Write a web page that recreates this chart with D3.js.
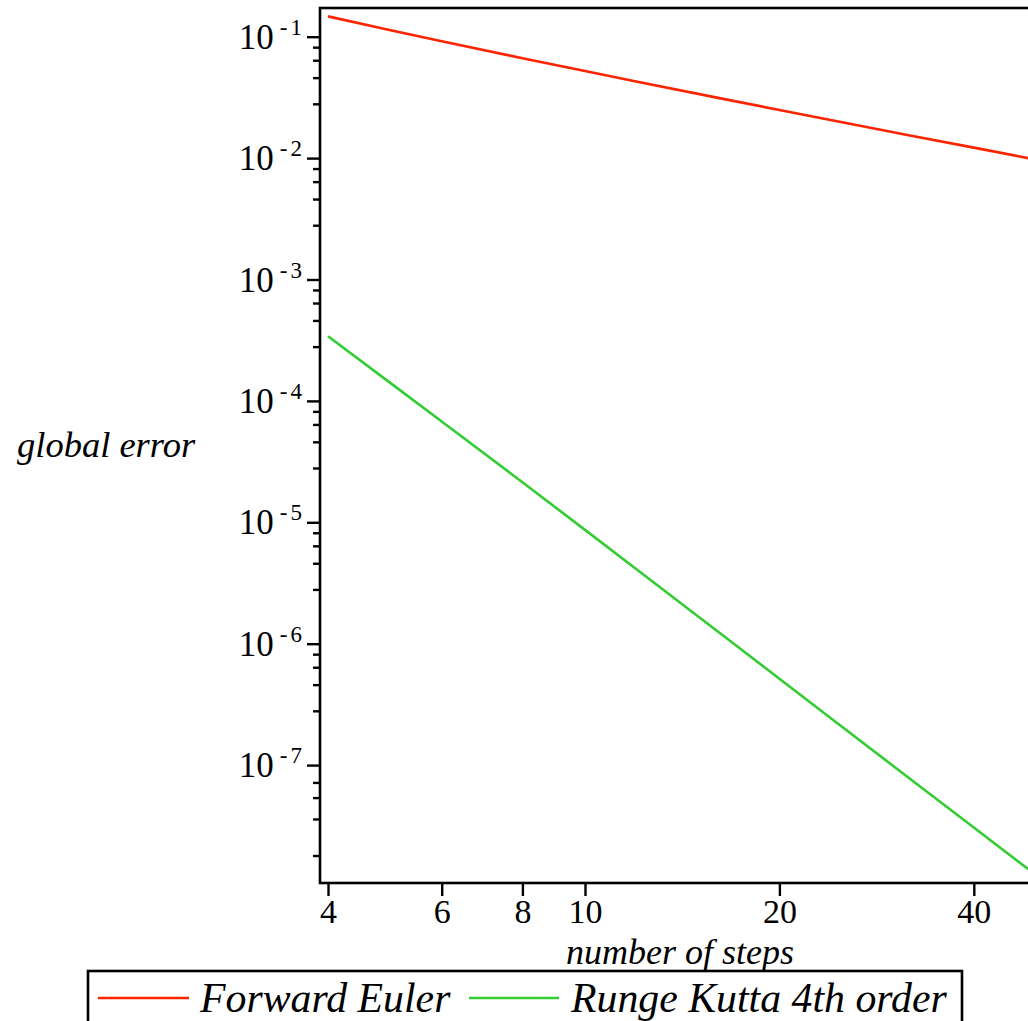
<!DOCTYPE html>
<html>
<head>
<meta charset="utf-8">
<script src="https://cdn.jsdelivr.net/npm/d3@7"></script>
<style>
  html, body { margin: 0; padding: 0; background: #fff; }
  svg { display: block; }
  text { font-family: "Liberation Serif", "Times New Roman", serif; fill: #000; }
</style>
</head>
<body>
<svg id="chart" width="1028" height="1021"></svg>
<script>
// ---- data ----
const steps = [4, 5, 6, 8, 10, 12, 16, 20, 24, 32, 40, 50];
const eulerError = [0.147, 0.113, 0.0918, 0.0665, 0.0521, 0.0428, 0.0315, 0.0249, 0.0206, 0.0153, 0.0122, 0.0097];
const rk4Error = [3.41e-4, 1.40e-4, 6.76e-5, 2.14e-5, 8.66e-6, 4.12e-6, 1.28e-6, 5.14e-7, 2.44e-7, 7.58e-8, 3.06e-8, 1.235e-8];
const seriesNames = ["Forward Euler", "Runge Kutta 4th order"];
const seriesColors = ["#ff2400", "#33cc33"];
const xTickValues = [4, 6, 8, 10, 20, 40];
const yMajorExponents = [-1, -2, -3, -4, -5, -6, -7];
const yMinorTicks = [0.082, 0.064, 0.046, 0.028,
  8.2e-3, 6.4e-3, 4.6e-3, 2.8e-3,
  8.2e-4, 6.4e-4, 4.6e-4, 2.8e-4,
  8.2e-5, 6.4e-5, 4.6e-5, 2.8e-5,
  8.2e-6, 6.4e-6, 4.6e-6, 2.8e-6,
  8.2e-7, 6.4e-7, 4.6e-7, 2.8e-7,
  7.2e-8, 5.4e-8, 3.6e-8, 1.8e-8];
const xLabel = "number of steps";
const yLabel = "global error";

// ---- layout ----
const frame = { left: 320, top: 8, right: 1044, bottom: 883 };
const svg = d3.select("#chart");

const x = d3.scaleLog().domain([4, 50]).range([328, 1036.4]);
const y = d3.scaleLog().domain([1e-8, 1e-1]).range([886.5, 36.7]);

// clip for curves
svg.append("defs").append("clipPath").attr("id", "plotclip")
  .append("rect").attr("x", frame.left).attr("y", frame.top)
  .attr("width", frame.right - frame.left).attr("height", frame.bottom - frame.top);

// curves
const series = [eulerError, rk4Error];
const line = d3.line().x((d, i) => x(steps[i])).y(d => y(d));
series.forEach((vals, k) => {
  svg.append("path")
    .attr("clip-path", "url(#plotclip)")
    .attr("d", line(vals))
    .attr("fill", "none")
    .attr("stroke", seriesColors[k])
    .attr("stroke-width", 2.6);
});

// frame
svg.append("rect")
  .attr("x", frame.left).attr("y", frame.top)
  .attr("width", frame.right - frame.left).attr("height", frame.bottom - frame.top)
  .attr("fill", "none").attr("stroke", "#000").attr("stroke-width", 2.6);

// y axis: major ticks
const yMajorVals = yMajorExponents.map(e => Math.pow(10, e));
const yAxisMajor = svg.append("g").attr("transform", `translate(${frame.left},0)`)
  .call(d3.axisLeft(y).tickValues(yMajorVals).tickSize(13).tickSizeOuter(0).tickFormat(""));
yAxisMajor.select(".domain").remove();
yAxisMajor.selectAll(".tick line").attr("stroke", "#000").attr("stroke-width", 2.4);

const yAxisMinor = svg.append("g").attr("transform", `translate(${frame.left},0)`)
  .call(d3.axisLeft(y).tickValues(yMinorTicks).tickSize(7).tickSizeOuter(0).tickFormat(""));
yAxisMinor.select(".domain").remove();
yAxisMinor.selectAll(".tick line").attr("stroke", "#000").attr("stroke-width", 2.4);

// y tick labels 10^-k
yMajorExponents.forEach(e => {
  const t = svg.append("text")
    .attr("x", 302)
    .attr("y", y(Math.pow(10, e)) + 12)
    .attr("text-anchor", "end")
    .style("font-size", "35px");
  t.append("tspan").text("10");
  t.append("tspan").attr("dx", 6).attr("dy", -14).style("font-size", "23px").text("-");
  t.append("tspan").attr("dx", 3).style("font-size", "23px").text(String(-e));
});

// x axis
const xAxis = svg.append("g").attr("transform", `translate(0,${frame.bottom})`)
  .call(d3.axisBottom(x).tickValues(xTickValues).tickSize(13).tickSizeOuter(0).tickPadding(3)
    .tickFormat(d3.format("d")));
xAxis.select(".domain").remove();
xAxis.selectAll(".tick line").attr("stroke", "#000").attr("stroke-width", 2.4);
xAxis.selectAll(".tick text")
  .attr("fill", "#000")
  .style("font-family", "'Liberation Serif', serif")
  .style("font-size", "34px");

// axis titles
svg.append("text")
  .attr("x", 680).attr("y", 964)
  .attr("text-anchor", "middle")
  .style("font-style", "italic").style("font-size", "36px")
  .text(xLabel);

svg.append("text")
  .attr("x", 17).attr("y", 457)
  .style("font-style", "italic").style("font-size", "36.5px")
  .text(yLabel);

// legend
const legend = svg.append("g");
legend.append("rect")
  .attr("x", 88).attr("y", 971).attr("width", 874).attr("height", 70)
  .attr("fill", "#fff").attr("stroke", "#000").attr("stroke-width", 2.6);
const legendItems = [
  { x1: 98, x2: 189, tx: 200 },
  { x1: 469, x2: 559, tx: 571 }
];
legendItems.forEach((it, k) => {
  legend.append("line")
    .attr("x1", it.x1).attr("x2", it.x2).attr("y1", 998).attr("y2", 998)
    .attr("stroke", seriesColors[k]).attr("stroke-width", 2.6);
  legend.append("text")
    .attr("x", it.tx).attr("y", 1012)
    .style("font-style", "italic").style("font-size", "41.8px")
    .text(seriesNames[k]);
});
</script>
</body>
</html>
